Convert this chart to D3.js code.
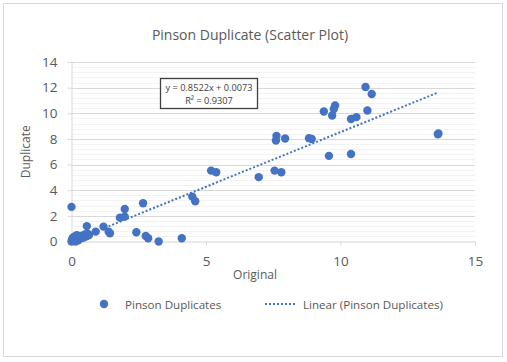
<!DOCTYPE html>
<html><head><meta charset="utf-8">
<script src="https://cdn.jsdelivr.net/npm/d3@7"></script>
<style>body{margin:0;background:#fff}svg{display:block}</style>
</head><body>
<script>
const title = "Pinson Duplicate (Scatter Plot)";
const seriesName = "Pinson Duplicates";
const trendName = "Linear (Pinson Duplicates)";
const xTicks = [0, 5, 10, 15];
const yTicks = [0, 2, 4, 6, 8, 10, 12, 14];
const slope = 0.8522, intercept = 0.0073, r2 = 0.9307;
const xValues = [0.0,0.02,0.05,0.1,0.12,0.18,0.25,0.3,0.35,0.4,0.45,0.5,0.55,0.6,0.2,0.08,0.65,0.15,
  0.0,0.57,0.9,1.19,1.38,1.43,1.8,1.98,1.98,2.66,2.41,2.76,2.85,3.24,4.1,
  4.49,4.6,5.19,5.38,6.96,7.55,7.8,9.57,10.39,
  7.62,7.6,7.94,8.83,8.93,13.62,13.64,
  10.93,11.16,9.38,9.8,9.75,9.69,10.39,10.59,11.0];
const yValues = [0.0,0.15,0.3,0.05,0.4,0.2,0.1,0.35,0.25,0.45,0.3,0.55,0.4,0.6,0.5,0.25,0.5,0.0,
  2.7,1.2,0.77,1.16,0.77,0.64,1.86,1.94,2.54,2.98,0.72,0.43,0.25,0.0,0.25,
  3.5,3.14,5.53,5.4,5.02,5.53,5.4,6.68,6.82,
  8.24,7.88,8.03,8.06,8.0,8.37,8.43,
  12.05,11.5,10.14,10.61,10.33,9.83,9.55,9.7,10.22];

const W = 507, H = 362;
const svg = d3.select("body").append("svg").attr("width", W).attr("height", H);
const font = "'Open Sans', 'Liberation Sans', sans-serif";
const grey = "#595959";

svg.append("rect").attr("x", 3.5).attr("y", 3.5).attr("width", 499).attr("height", 353)
  .attr("fill", "#fff").attr("stroke", "#d9d9d9");

const L = 71.5, R = 475, T = 62, B = 241.5;
const x = d3.scaleLinear().domain([0, 15]).range([L, R]);
const y = d3.scaleLinear().domain([0, 14]).range([B, T]);

// minor gridlines
const minor = d3.range(0, 14.001, 0.4);
svg.append("g").selectAll("line").data(minor).join("line")
  .attr("x1", L).attr("x2", R).attr("y1", d => Math.round(y(d)) + 0.5).attr("y2", d => Math.round(y(d)) + 0.5)
  .attr("stroke", "#f2f2f2").attr("stroke-width", 1);
// major gridlines
svg.append("g").selectAll("line").data(yTicks.slice(1)).join("line")
  .attr("x1", L).attr("x2", R).attr("y1", d => Math.round(y(d)) + 0.5).attr("y2", d => Math.round(y(d)) + 0.5)
  .attr("stroke", "#d9d9d9").attr("stroke-width", 1);

// axes
const yAxis = svg.append("g").attr("transform", `translate(${L},0)`)
  .call(d3.axisLeft(y).tickValues(yTicks).tickSize(4).tickPadding(10));
const xAxis = svg.append("g").attr("transform", `translate(0,${B})`)
  .call(d3.axisBottom(x).tickValues(xTicks).tickSize(4).tickPadding(11));
[yAxis, xAxis].forEach(g => {
  g.select(".domain").attr("stroke", "#d9d9d9");
  g.selectAll(".tick line").attr("stroke", "#d9d9d9");
  g.selectAll("text").attr("fill", grey).style("font-family", font).style("font-size", "13.5px");
});
xAxis.selectAll(".tick line").filter(d => d === 0).remove();

// title
svg.append("text").attr("x", 250).attr("y", 40).attr("text-anchor", "middle")
  .attr("fill", grey).style("font-family", font).style("font-size", "14px").text(title);
// axis titles
svg.append("text").attr("x", 255).attr("y", 279).attr("text-anchor", "middle")
  .attr("fill", grey).style("font-family", font).style("font-size", "12px").text("Original");
svg.append("text").attr("transform", `translate(30,${(T + B) / 2}) rotate(-90)`).attr("text-anchor", "middle")
  .attr("fill", grey).style("font-family", font).style("font-size", "12px").text("Duplicate");

const blue = "#4472c4";
// points
svg.append("g").selectAll("circle").data(xValues.map((v, i) => [v, yValues[i]])).join("circle")
  .attr("cx", d => x(d[0])).attr("cy", d => y(d[1])).attr("r", 4.2).attr("fill", blue);

// trendline
const xmin = d3.min(xValues), xmax = d3.max(xValues);
svg.append("line").attr("x1", x(xmin)).attr("y1", y(slope * xmin + intercept))
  .attr("x2", x(xmax)).attr("y2", y(slope * xmax + intercept))
  .attr("stroke", blue).attr("stroke-width", 2).attr("stroke-dasharray", "2 2");

// equation box
const bx = 160, by = 78, bw = 97, bh = 30;
svg.append("rect").attr("x", bx + 0.5).attr("y", by + 0.5).attr("width", bw).attr("height", bh)
  .attr("fill", "#fff").attr("stroke", "#404040").attr("stroke-width", 1.3);
svg.append("text").attr("x", bx + bw / 2 + 0.5).attr("y", by + 13).attr("text-anchor", "middle")
  .attr("fill", "#404040").style("font-family", font).style("font-size", "9.2px")
  .text(`y = ${slope}x + ${intercept}`);
svg.append("text").attr("x", bx + bw / 2 + 0.5).attr("y", by + 25.5).attr("text-anchor", "middle")
  .attr("fill", "#404040").style("font-family", font).style("font-size", "9.2px")
  .text(`R² = ${r2}`);

// legend
const ly = 304;
svg.append("circle").attr("cx", 104).attr("cy", ly).attr("r", 4.2).attr("fill", blue);
svg.append("text").attr("x", 125).attr("y", ly + 4.5).attr("fill", grey)
  .style("font-family", font).style("font-size", "11.6px").text(seriesName);
svg.append("line").attr("x1", 265).attr("x2", 297).attr("y1", ly).attr("y2", ly)
  .attr("stroke", blue).attr("stroke-width", 2).attr("stroke-dasharray", "2 2");
svg.append("text").attr("x", 303).attr("y", ly + 4.5).attr("fill", grey)
  .style("font-family", font).style("font-size", "11.6px").text(trendName);
</script>
</body></html>
